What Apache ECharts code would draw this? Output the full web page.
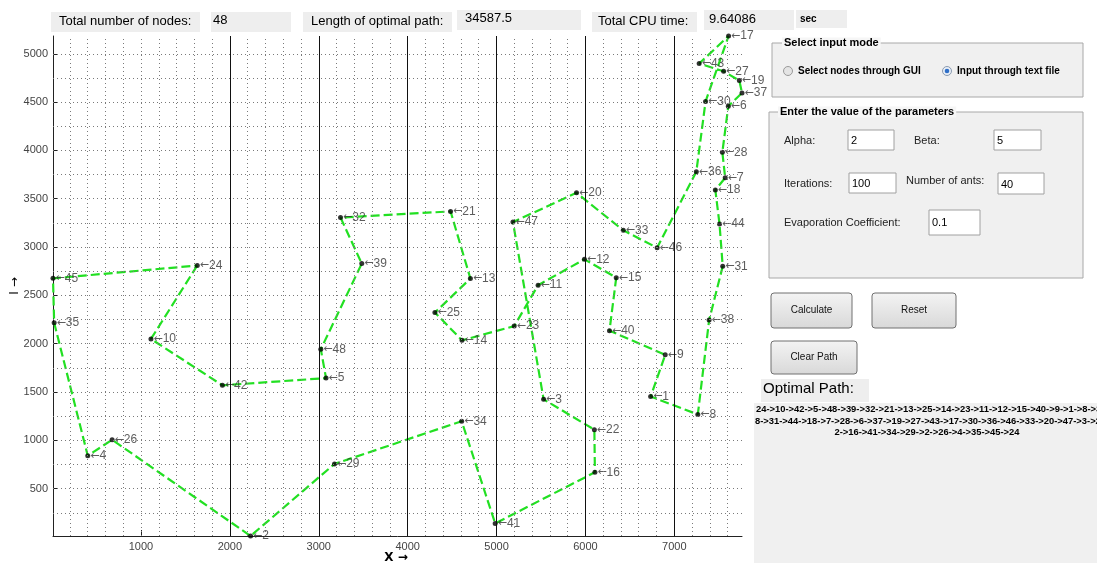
<!DOCTYPE html>
<html>
<head>
<meta charset="utf-8">
<script src="https://cdn.jsdelivr.net/npm/echarts@6/dist/echarts.min.js"></script>
<style>
html,body{margin:0;padding:0;background:#fff;}
#chart{width:1097px;height:563px;}
</style>
</head>
<body>
<div id="chart"></div>
<script>
// ---- data (att48 nodes) ----
const nodeIds = [1,2,3,4,5,6,7,8,9,10,11,12,13,14,15,16,17,18,19,20,21,22,23,24,25,26,27,28,29,30,31,32,33,34,35,36,37,38,39,40,41,42,43,44,45,46,47,48];
const nodeX = [6734,2233,5530,401,3082,7608,7573,7265,6898,1112,5468,5989,4706,4612,6347,6107,7611,7462,7732,5900,4483,6101,5199,1633,4307,675,7555,7541,3177,7352,7545,3245,6426,4608,23,7248,7762,7392,3484,6271,4985,1916,7280,7509,10,6807,5185,3023];
const nodeY = [1453,10,1424,841,1644,4458,3716,1268,1885,2049,2606,2873,2674,2035,2683,669,5184,3590,4723,3561,3369,1110,2182,2809,2322,1006,4819,3981,756,4506,2801,3305,3173,1198,2216,3779,4595,2244,2829,2135,140,1569,4899,3239,2676,2993,3258,1942];
const pathOrder = [24,10,42,5,48,39,32,21,13,25,14,23,11,12,15,40,9,1,8,38,31,44,18,7,28,6,37,19,27,43,17,30,36,46,33,20,47,3,22,16,41,34,29,2,26,4,35,45,24];
const xTickLabels = [1000,2000,3000,4000,5000,6000,7000];
const yTickLabels = [500,1000,1500,2000,2500,3000,3500,4000,4500,5000];
const gridXValues = [200,400,600,800,1000,1200,1400,1600,1800,2000,2200,2400,2600,2800,3000,3200,3400,3600,3800,4000,4200,4400,4600,4800,5000,5200,5400,5600,5800,6000,6200,6400,6600,6800,7000,7200,7400,7600];
const gridYValues = [250,500,750,1000,1250,1500,1750,2000,2250,2500,2750,3000,3250,3500,3750,4000,4250,4500,4750,5000];
const solidXValues = [2000,3000,4000,5000,6000,7000];
const xAxisTitle = 'X →';
const yAxisTitle = 'I →';
const statNodes = '48';
const statLength = '34587.5';
const statCpu = '9.64086';
const paramAlpha = '2', paramBeta = '5', paramIter = '100', paramAnts = '40', paramEvap = '0.1';
const pathTextLines = [
  '24->10->42->5->48->39->32->21->13->25->14->23->11->12->15->40->9->1->8->38->31',
  '8->31->44->18->7->28->6->37->19->27->43->17->30->36->46->33->20->47->3->22->16',
  '2->16->41->34->29->2->26->4->35->45->24'
];

// ---- build ----
const FONT = '"Liberation Sans", Arial, "DejaVu Sans", sans-serif';
const ARROWFONT = '"DejaVu Sans", sans-serif';
const nodeData = nodeIds.map((id, i) => ({ name: String(id), value: [nodeX[i], nodeY[i]] }));
const pathData = pathOrder.map(id => { const i = nodeIds.indexOf(id); return [nodeX[i], nodeY[i]]; });
const dotted = { color: '#7a7a7a', width: 1, type: [1, 3] };
const solid = { color: '#111', width: 1, type: 'solid' };
const markLineData = []
  .concat(gridXValues.map(v => ({ xAxis: v, lineStyle: dotted })))
  .concat(gridYValues.map(v => ({ yAxis: v, lineStyle: dotted })))
  .concat(solidXValues.map(v => ({ xAxis: v, lineStyle: solid })));

function txt(x, y, text, font, extra) {
  return { type: 'text', silent: true, style: Object.assign({ x: x, y: y, text: text, font: font, fill: '#000', verticalAlign: 'middle', align: 'left' }, extra || {}) };
}
function box(x, y, w, h, fill, stroke, r) {
  return { type: 'rect', silent: true, shape: { x: x, y: y, width: w, height: h, r: r || 0 }, style: { fill: fill, stroke: stroke || null, lineWidth: stroke ? 1 : 0 } };
}
const btnFill = { type: 'linear', x: 0, y: 0, x2: 0, y2: 1, colorStops: [{ offset: 0, color: '#f4f4f4' }, { offset: 1, color: '#d8d8d8' }] };
function button(x, y, w, h, label) {
  return [
    { type: 'rect', silent: true, shape: { x: x, y: y, width: w, height: h, r: 3 }, style: { fill: btnFill, stroke: '#707070', lineWidth: 1 } },
    txt(x + w / 2, y + h / 2, label, '10px ' + FONT, { align: 'center', fill: '#111' })
  ];
}
const lightGray = '#eeeeee';
const graphics = [
  // axis titles
  txt(396, 558, xAxisTitle, 'bold 12px ' + ARROWFONT, { align: 'center' }),
  { type: 'text', silent: true, x: 15, y: 286, rotation: Math.PI / 2,
    style: { x: 0, y: 0, text: yAxisTitle, font: '12px ' + ARROWFONT, fill: '#000', align: 'center', verticalAlign: 'middle' } },
  // top stats
  box(51, 12, 149, 20, lightGray), txt(59, 21, 'Total number of nodes:', '13px ' + FONT),
  box(211, 12, 80, 20, lightGray), txt(213, 20, statNodes, '13px ' + FONT),
  box(303, 12, 149, 20, lightGray), txt(311, 21, 'Length of optimal path:', '13px ' + FONT),
  box(457, 10, 124, 20, lightGray), txt(465, 18, statLength, '13px ' + FONT),
  box(592, 12, 105, 20, lightGray), txt(598, 21, 'Total CPU time:', '13px ' + FONT),
  box(704, 10, 90, 20, lightGray), txt(709, 19, statCpu, '13px ' + FONT),
  box(796, 10, 51, 18, lightGray), txt(800, 19, 'sec', 'bold 10px ' + FONT),
  // panel 1
  box(772, 43, 311, 54, '#f0f0f0', '#a8a8a8'),
  txt(782, 43, 'Select input mode', 'bold 11px ' + FONT, { backgroundColor: '#f6f6f6', padding: [0, 2, 0, 2] }),
  { type: 'circle', silent: true, shape: { cx: 788, cy: 71, r: 4.5 }, style: { fill: '#e4e4e4', stroke: '#9a9a9a', lineWidth: 1 } },
  txt(798, 71, 'Select nodes through GUI', 'bold 10px ' + FONT),
  { type: 'circle', silent: true, shape: { cx: 947, cy: 71, r: 4.5 }, style: { fill: '#e8eef6', stroke: '#8a9ab0', lineWidth: 1 } },
  { type: 'circle', silent: true, shape: { cx: 947, cy: 71, r: 2.3 }, style: { fill: '#2f6fc8' } },
  txt(957, 71, 'Input through text file', 'bold 10px ' + FONT),
  // panel 2
  box(769, 112, 314, 166, '#f0f0f0', '#a8a8a8'),
  txt(778, 112, 'Enter the value of the parameters', 'bold 11px ' + FONT, { backgroundColor: '#f6f6f6', padding: [0, 2, 0, 2] }),
  txt(784, 141, 'Alpha:', '11px ' + FONT, { fill: '#222' }),
  box(848, 130, 46, 20, '#fff', '#a0a0a0'), txt(851, 141, paramAlpha, '11px ' + FONT),
  txt(914, 141, 'Beta:', '11px ' + FONT, { fill: '#222' }),
  box(994, 130, 47, 20, '#fff', '#a0a0a0'), txt(997, 141, paramBeta, '11px ' + FONT),
  txt(784, 184, 'Iterations:', '11px ' + FONT, { fill: '#222' }),
  box(849, 173, 47, 20, '#fff', '#a0a0a0'), txt(852, 184, paramIter, '11px ' + FONT),
  txt(906, 181, 'Number of ants:', '11px ' + FONT, { fill: '#222' }),
  box(998, 173, 46, 21, '#fff', '#a0a0a0'), txt(1001, 185, paramAnts, '11px ' + FONT),
  txt(784, 223, 'Evaporation Coefficient:', '11px ' + FONT, { fill: '#222' }),
  box(929, 210, 51, 25, '#fff', '#a0a0a0'), txt(932, 223, paramEvap, '11px ' + FONT),
  // buttons
  ...button(771, 293, 81, 35, 'Calculate'),
  ...button(872, 293, 84, 35, 'Reset'),
  ...button(771, 341, 86, 33, 'Clear Path'),
  // optimal path
  box(761, 379, 108, 23, lightGray), txt(763, 389, 'Optimal Path:', '15px ' + FONT),
  box(754, 403, 343, 160, '#f0f0f0'),
  txt(756, 409, pathTextLines[0], 'bold 9.4px ' + FONT),
  txt(755, 421, pathTextLines[1], 'bold 9.4px ' + FONT),
  txt(927, 432, pathTextLines[2], 'bold 9.4px ' + FONT, { align: 'center' })
];

const chart = echarts.init(document.getElementById('chart'), null, { renderer: 'canvas' });
chart.setOption({
  animation: false,
  backgroundColor: '#ffffff',
  grid: { left: 53, right: 355, top: 36, bottom: 27, containLabel: false, outerBoundsMode: 'none' },
  xAxis: {
    type: 'value', min: 10, max: 7762,
    axisLine: { show: true, lineStyle: { color: '#222', width: 1 } },
    axisTick: { show: true, inside: true, length: 6, customValues: xTickLabels, lineStyle: { color: '#222' } },
    axisLabel: { customValues: xTickLabels, formatter: v => String(v), fontSize: 11, color: '#444', fontFamily: FONT, margin: 5 },
    splitLine: { show: false }
  },
  yAxis: {
    type: 'value', min: 10, max: 5184,
    axisLine: { show: true, lineStyle: { color: '#222', width: 1 } },
    axisTick: { show: true, inside: true, length: 5, customValues: yTickLabels, lineStyle: { color: '#222' } },
    axisLabel: { customValues: yTickLabels, formatter: v => String(v), fontSize: 11, color: '#444', fontFamily: FONT, margin: 5 },
    splitLine: { show: false }
  },
  series: [
    {
      type: 'line', data: [], z: 1, silent: true,
      markLine: { silent: true, symbol: 'none', label: { show: false }, animation: false, data: markLineData }
    },
    {
      type: 'line', data: pathData, z: 2, silent: true, showSymbol: false, symbol: 'none',
      lineStyle: { color: '#22e022', width: 2.2, type: [9, 4] }
    },
    {
      type: 'scatter', data: nodeData, z: 3, silent: true,
      symbol: 'circle', symbolSize: 5, itemStyle: { color: '#000' },
      label: {
        show: true, position: 'right', distance: 0,
        formatter: p => '{a|←}{b|' + p.name + '}',
        rich: {
          a: { fontSize: 11, color: '#333', fontFamily: ARROWFONT },
          b: { fontSize: 12, color: '#333', fontFamily: FONT }
        }
      }
    }
  ],
  graphic: graphics
});
</script>
</body>
</html>
